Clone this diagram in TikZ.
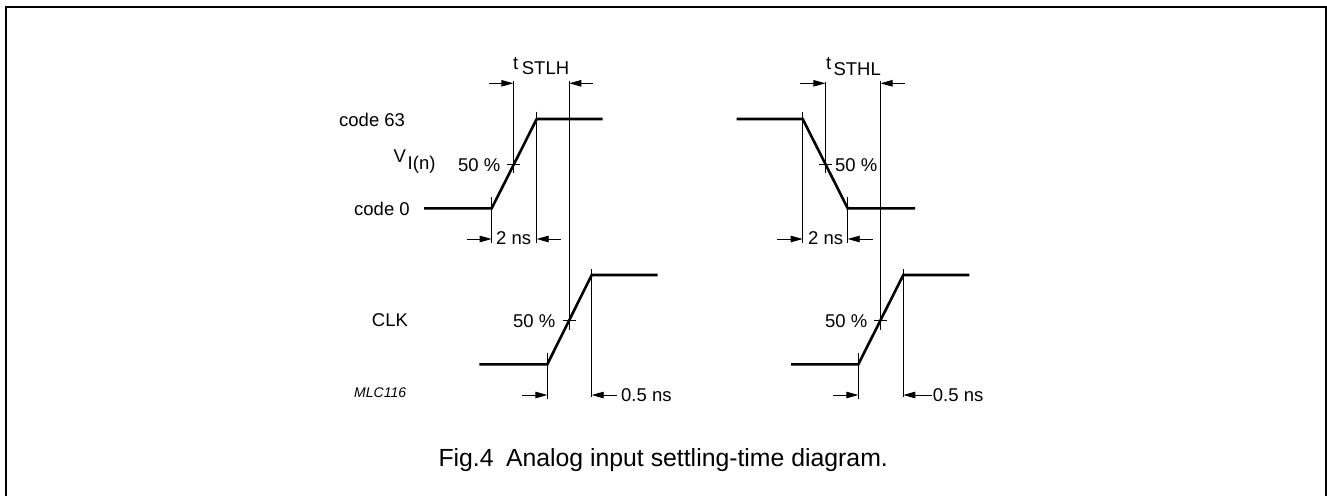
\documentclass[tikz,border=0pt]{standalone}
\usepackage{fontspec}
\setmainfont{Liberation Sans}
\usetikzlibrary{arrows.meta}
\begin{document}
\begin{tikzpicture}[x=1pt,y=-1pt,
  wave/.style={line width=2.6pt,line join=miter},
  thinln/.style={line width=0.9pt},
  dimarrow/.style={line width=0.9pt,-{Triangle[length=12pt,width=6.5pt]}},
  lbl/.style={anchor=base west,inner sep=0pt,font=\fontsize{18.5}{22}\selectfont},
  caplbl/.style={anchor=base west,inner sep=0pt,font=\fontsize{24.8}{28}\selectfont},
  codelbl/.style={anchor=base west,inner sep=0pt,font=\fontsize{14}{16}\selectfont\itshape}]
\useasboundingbox (0,0) rectangle (1327,495);
% frame
\draw[line width=2pt] (6,505) -- (6,7.5) -- (1325.8,7.5) -- (1325.8,505);

% ---------- top-left: V_I(n) rising ----------
\coordinate (a0) at (424,208.3);
\coordinate (a1) at (491.7,208.3);
\coordinate (a2) at (536.7,119);
\coordinate (a3) at (602.7,119);
\draw[wave] (a0) -- (a1) -- (a2) -- (a3);
\draw[thinln] (491.7,196.7) -- (491.7,243);
\draw[thinln] (536.7,111.7) -- (536.7,243);
\draw[thinln] (513.3,80.7) -- (513.3,172.7);
\draw[thinln] (506.7,164) -- (520,164);
\draw[thinln] (569.3,80.7) -- (569.3,330);
\coordinate (ta1) at (489,83.3); \coordinate (ta2) at (513.3,83.3);
\coordinate (tb1) at (593,83.3); \coordinate (tb2) at (569.3,83.3);
\draw[dimarrow] (ta1) -- (ta2);
\draw[dimarrow] (tb1) -- (tb2);
\coordinate (na1) at (466.7,239); \coordinate (na2) at (491.7,239);
\coordinate (nb1) at (560.7,239); \coordinate (nb2) at (536.7,239);
\draw[dimarrow] (na1) -- (na2);
\draw[dimarrow] (nb1) -- (nb2);
\node[lbl] (c63) at (339,126) {code 63};
\node[lbl] (c0) at (354,215) {code 0};
\node[lbl] (vv) at (393.5,162) {V};
\node[lbl] (vi) at (407.5,169) {I(n)};
\node[lbl] (p1) at (458,171.5) {50 \%};
\node[lbl] (t1) at (513,70) {t};
\node[lbl] (s1) at (521.7,74.5) {STLH};
\node[lbl] (n1) at (496,244) {2 ns};

% ---------- top-right: falling ----------
\coordinate (b0) at (736.7,119);
\coordinate (b1) at (802.7,119);
\coordinate (b2) at (847.7,208.3);
\coordinate (b3) at (915,208.3);
\draw[wave] (b0) -- (b1) -- (b2) -- (b3);
\draw[thinln] (802.7,111.7) -- (802.7,243);
\draw[thinln] (847.7,196.7) -- (847.7,243);
\draw[thinln] (825.3,81.7) -- (825.3,172.7);
\draw[thinln] (819,164) -- (831.5,164);
\draw[thinln] (880.5,80.7) -- (880.5,330);
\coordinate (tc1) at (800,83.3); \coordinate (tc2) at (825.3,83.3);
\coordinate (td1) at (905,83.3); \coordinate (td2) at (880.5,83.3);
\draw[dimarrow] (tc1) -- (tc2);
\draw[dimarrow] (td1) -- (td2);
\coordinate (nc1) at (777,239); \coordinate (nc2) at (802.7,239);
\coordinate (nd1) at (872.7,239); \coordinate (nd2) at (847.7,239);
\draw[dimarrow] (nc1) -- (nc2);
\draw[dimarrow] (nd1) -- (nd2);
\node[lbl] (p2) at (835,171) {50 \%};
\node[lbl] (t2) at (826,70) {t};
\node[lbl] (s2) at (833.3,75) {STHL};
\node[lbl] (n2) at (808,244) {2 ns};

% ---------- CLK left ----------
\coordinate (c0a) at (479.3,364.3);
\coordinate (c1a) at (547.3,364.3);
\coordinate (c2a) at (591.7,275);
\coordinate (c3a) at (657.7,275);
\draw[wave] (c0a) -- (c1a) -- (c2a) -- (c3a);
\draw[thinln] (547.3,353.3) -- (547.3,399.3);
\draw[thinln] (591.7,269) -- (591.7,397);
\draw[thinln] (562.7,320) -- (575.7,320);
\coordinate (ka1) at (521.7,395); \coordinate (ka2) at (547.3,395);
\coordinate (kb1) at (616.7,395); \coordinate (kb2) at (591.7,395);
\draw[dimarrow] (ka1) -- (ka2);
\draw[dimarrow] (kb1) -- (kb2);
\node[lbl] (clk) at (371.7,326) {CLK};
\node[codelbl] (mlc) at (354,397.3) {MLC116};
\node[lbl] (p3) at (513,327) {50 \%};
\node[lbl] (h1) at (621,401.7) {0.5 ns};

% ---------- CLK right ----------
\coordinate (d0) at (791,364.3);
\coordinate (d1) at (858.3,364.3);
\coordinate (d2) at (903.3,275);
\coordinate (d3) at (969.3,275);
\draw[wave] (d0) -- (d1) -- (d2) -- (d3);
\draw[thinln] (858.3,353.3) -- (858.3,399.3);
\draw[thinln] (903.3,269) -- (903.3,397);
\draw[thinln] (874,320) -- (887.3,320);
\coordinate (kc1) at (833.3,395); \coordinate (kc2) at (858.3,395);
\coordinate (kd1) at (931.7,395); \coordinate (kd2) at (903.3,395);
\draw[dimarrow] (kc1) -- (kc2);
\draw[dimarrow] (kd1) -- (kd2);
\node[lbl] (p4) at (825,327) {50 \%};
\node[lbl] (h2) at (932.7,401.7) {0.5 ns};

% caption
\node[caplbl] (cap) at (438.3,466.7) {Fig.4\hspace{0.5em}Analog input settling-time diagram.};
\end{tikzpicture}
\end{document}
